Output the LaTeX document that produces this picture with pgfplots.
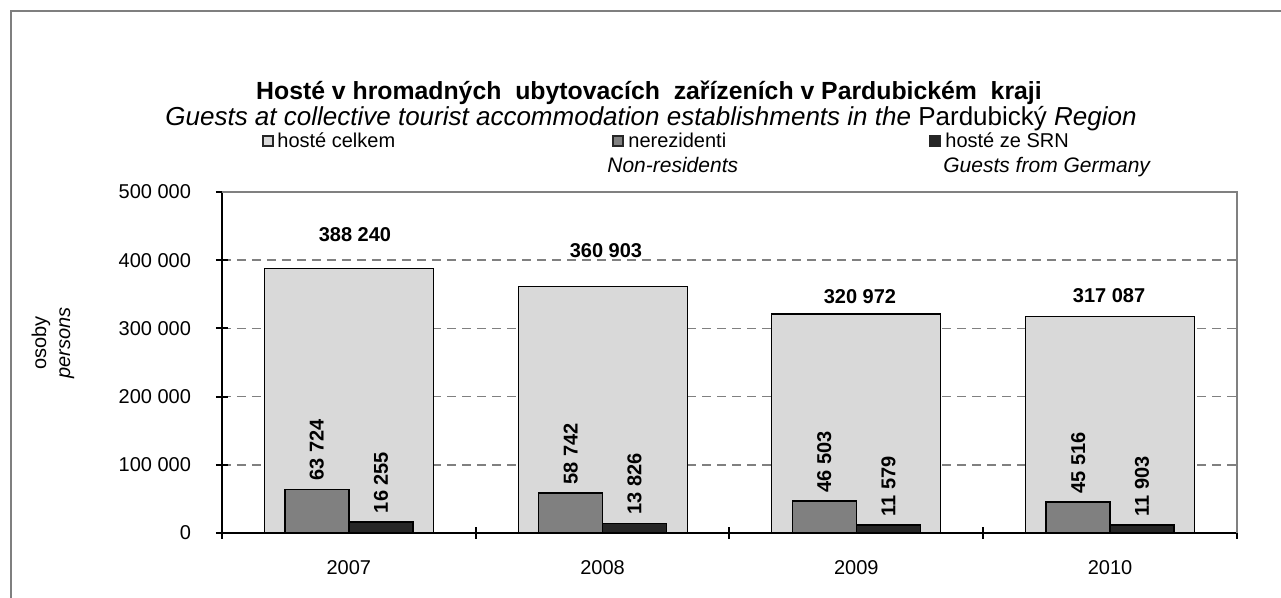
\documentclass[border=0pt]{standalone}
\usepackage{fontspec}
\setmainfont{Liberation Sans}
\usepackage{pgfplots}
\pgfplotsset{compat=1.18}
\definecolor{cTot}{HTML}{D9D9D9}
\definecolor{cNer}{HTML}{808080}
\definecolor{cSRN}{HTML}{262626}
\definecolor{cGrid}{HTML}{808080}
\definecolor{cFrame}{HTML}{7F7F7F}
\begin{document}
\begin{tikzpicture}
\begin{axis}[
  scale only axis,
  width=507.5pt, height=170.5pt,
  xmin=-0.5, xmax=3.5, ymin=0, ymax=500000,
  axis x line*=bottom, axis y line*=left,
  axis line style={line width=1pt, black, -},
  xtick={-0.5,0.5,1.5,2.5,3.5}, xticklabels={},
  extra x ticks={0,1,2,3},
  extra x tick labels={2007,2008,2009,2010},
  extra x tick style={major tick length=0pt, grid=none},
  xticklabel style={yshift=-10pt},
  ytick={0,100000,200000,300000,400000,500000},
  yticklabels={0,100 000,200 000,300 000,400 000,500 000},
  scaled y ticks=false,
  yticklabel style={xshift=-9pt},
  tick align=center, major tick length=6pt,
  tick style={black, line width=1pt},
  ymajorgrids,
  major grid style={cGrid, line width=0.75pt, dash pattern=on 4.5pt off 3pt},
  clip=false,
]
\addplot[ybar, bar width=0.666, bar shift=0, fill=cTot, draw=black, line width=0.6pt]
  coordinates {(0,388240) (1,360903) (2,320972) (3,317087)};
\addplot[ybar, bar width=0.252, bar shift=-0.126, fill=cNer, draw=black, line width=0.8pt,
  point meta=explicit symbolic, nodes near coords={\pgfplotspointmeta},
  every node near coord/.append style={xshift=-16pt, rotate=90, anchor=west, font=\bfseries, inner xsep=4pt}]
  table[meta=lab, col sep=comma, row sep=\\] {
x,y,lab\\
0,63724,63 724\\
1,58742,58 742\\
2,46503,46 503\\
3,45516,45 516\\
};
\addplot[ybar, bar width=0.252, bar shift=0.126, fill=cSRN, draw=black, line width=0.8pt,
  point meta=explicit symbolic, nodes near coords={\pgfplotspointmeta},
  every node near coord/.append style={xshift=16pt, rotate=90, anchor=west, font=\bfseries, inner xsep=4pt}]
  table[meta=lab, col sep=comma, row sep=\\] {
x,y,lab\\
0,16255,16 255\\
1,13826,13 826\\
2,11579,11 579\\
3,11903,11 903\\
};
\addplot[draw=none, point meta=explicit symbolic, nodes near coords={\pgfplotspointmeta},
  every node near coord/.append style={anchor=center, font=\bfseries}]
  table[meta=lab, col sep=comma, row sep=\\] {
x,y,lab\\
0.024,436950,388 240\\
1.013,413490,360 903\\
2.014,346040,320 972\\
2.996,347510,317 087\\
};
\draw[cGrid, line width=0.75pt] (rel axis cs:0,1) -- (rel axis cs:1,1) -- (rel axis cs:1,0);
\coordinate (O) at (rel axis cs:0,0);
\end{axis}
\pgfresetboundingbox
\begin{scope}[shift={(O)}, xshift=-111pt, yshift=-32.5pt, x=1pt, y=1pt]
\path[use as bounding box] (0,0) rectangle (640.5,299);
\draw[line width=1pt, cFrame] (5.5,-2) -- (5.5,293.5) -- (642,293.5);
% titles
\node[anchor=base, inner sep=0pt, font=\fontsize{12.4}{15}\selectfont\bfseries] at (324.5,249)
  {Hosté v hromadných\ \ ubytovacích\ \ zařízeních v Pardubickém\ \ kraji};
\node[anchor=base, inner sep=0pt, font=\fontsize{13}{15}\selectfont] at (325.5,236)
  {\itshape Guests at collective tourist accommodation establishments in the \upshape Pardubický \itshape Region};
% legend
\draw[fill=cTot, draw=black!85, line width=0.6pt] (131.5,226) rectangle (136.5,231);
\node[anchor=base west, inner sep=0pt] at (138.5,225) {hosté celkem};
\draw[fill=cNer, draw=black!85, line width=0.6pt] (306.5,226) rectangle (311.5,231);
\node[anchor=base west, inner sep=0pt] at (314,225) {nerezidenti};
\node[anchor=base west, inner sep=0pt, font=\fontsize{10.5}{12}\selectfont] at (303.5,212.5) {\itshape Non-residents};
\draw[fill=cSRN, draw=black!85, line width=0.6pt] (465,226) rectangle (470,231);
\node[anchor=base west, inner sep=0pt] at (472.5,225) {hosté ze SRN};
\node[anchor=base west, inner sep=0pt, font=\fontsize{10.5}{12}\selectfont] at (471.5,212.5) {\itshape Guests from Germany};
% y label
\node[rotate=90, align=center, inner sep=0pt] at (26.5,127.5) {osoby\\ \itshape persons};
\end{scope}
\end{tikzpicture}
\end{document}
